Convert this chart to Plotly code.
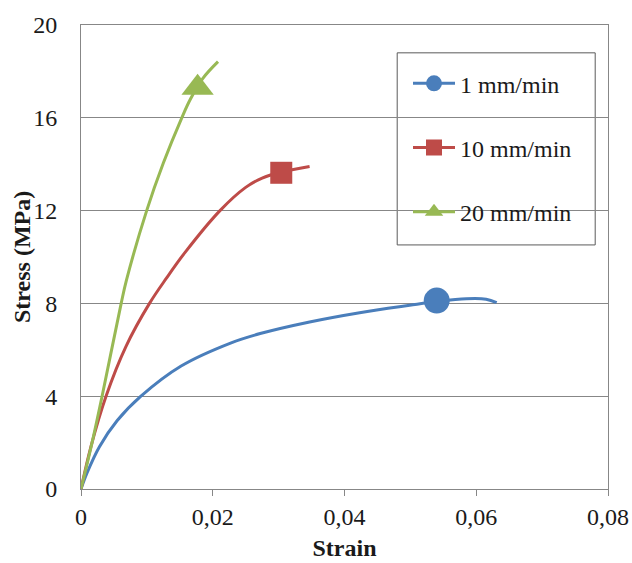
import plotly.graph_objects as go

# ---- data ----
series_names = ["1 mm/min", "10 mm/min", "20 mm/min"]

strain_1 = [0, 0.0009, 0.0028, 0.0055, 0.0091, 0.0152, 0.0228, 0.0272, 0.0347, 0.0423, 0.0499, 0.054, 0.0585, 0.0615, 0.0631]
stress_1 = [0, 0.68, 1.82, 2.95, 4.0, 5.3, 6.3, 6.7, 7.2, 7.6, 7.92, 8.08, 8.2, 8.18, 8.03]

strain_10 = [0, 0.0015, 0.0038, 0.0068, 0.0104, 0.013, 0.0158, 0.0211, 0.025, 0.0275, 0.0303, 0.0347]
stress_10 = [0, 1.82, 4.0, 6.13, 8.0, 9.1, 10.2, 12.0, 13.0, 13.4, 13.65, 13.9]

strain_20 = [0, 0.0016, 0.0032, 0.0061, 0.0069, 0.00997, 0.0125, 0.0153, 0.0166, 0.0185, 0.0208]
stress_20 = [0, 1.9, 4.0, 8.0, 9.0, 12.0, 14.05, 16.0, 16.8, 17.7, 18.42]

marker_strain = [0.054, 0.0304, 0.0177]
marker_stress = [8.12, 13.63, 17.3]

colors = ["#4A7EBB", "#BE4B48", "#98B954"]
symbols = ["circle", "square", "triangle-up"]
marker_sizes = [26, 22, 28]

x_ticks = [0, 0.02, 0.04, 0.06, 0.08]
y_ticks = [0, 4, 8, 12, 16, 20]

FONT = "Liberation Serif"
FS = 24

fig = go.Figure()
curves = [(strain_1, stress_1), (strain_10, stress_10), (strain_20, stress_20)]
for i, (xs, ys) in enumerate(curves):
    fig.add_trace(go.Scatter(
        x=xs, y=ys, mode="lines",
        line=dict(color=colors[i], width=3, shape="spline", smoothing=1.0),
        showlegend=False, hoverinfo="skip",
    ))
for i in range(3):
    fig.add_trace(go.Scatter(
        x=[marker_strain[i]], y=[marker_stress[i]], mode="lines+markers",
        name=series_names[i], legendgroup=f"g{i}",
        line=dict(color=colors[i], width=3),
        marker=dict(color=colors[i], symbol=symbols[i], size=marker_sizes[i]),
    ))

axis_col = "#878787"
fig.update_layout(
    width=632, height=563,
    margin=dict(l=81, r=24, t=25, b=74, autoexpand=False),
    paper_bgcolor="white", plot_bgcolor="white",
    separators=",.",
    font=dict(family=FONT, size=FS, color="#1a1a1a"),
    showlegend=True,
    legend=dict(
        x=0.6205, y=0.922, xanchor="left", yanchor="top",
        bgcolor="rgba(0,0,0,0)", borderwidth=0,
        font=dict(family=FONT, size=FS, color="#1a1a1a"),
        tracegroupgap=30, itemwidth=42,
    ),
    shapes=[dict(
        type="rect", xref="paper", yref="paper",
        x0=0.6, x1=0.9757, y0=0.526, y1=0.94,
        line=dict(color="#5a5a5a", width=1), fillcolor="white", layer="below",
    )],
    xaxis=dict(
        range=[0, 0.08], tickvals=x_ticks, ticks="outside", ticklen=6,
        tickcolor=axis_col, showline=True, linecolor=axis_col, linewidth=1,
        mirror=True, showgrid=False, zeroline=False,
        tickfont=dict(family=FONT, size=FS),
        title=dict(text="<b>Strain</b>", font=dict(family=FONT, size=FS), standoff=10),
    ),
    yaxis=dict(
        range=[0, 20], tickvals=y_ticks, ticks="", ticklabelstandoff=18,
        showline=True, linecolor=axis_col, linewidth=1, mirror=True,
        showgrid=True, gridcolor=axis_col, gridwidth=1, zeroline=False,
        tickfont=dict(family=FONT, size=FS),
    ),
    annotations=[dict(
        text="<b>Stress (MPa)</b>", xref="paper", yref="paper",
        x=-0.112, y=0.5, xanchor="center", yanchor="middle",
        textangle=-90, showarrow=False, font=dict(family=FONT, size=FS),
    )],
)

fig.write_html("out.html")
